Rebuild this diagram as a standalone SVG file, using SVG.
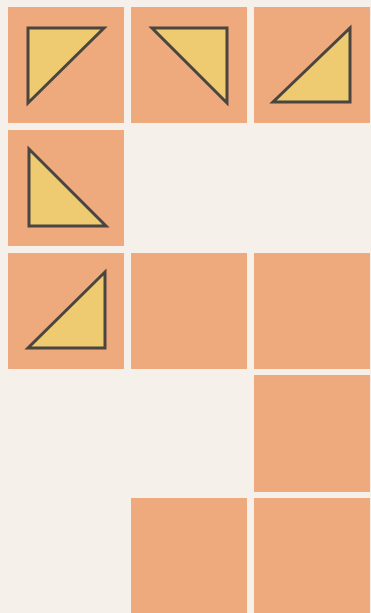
<svg xmlns="http://www.w3.org/2000/svg" width="371" height="613" viewBox="0 0 371 613">
<style>
.bg{fill:#f5f1ea}
.sq{fill:#eeaa7d}
.tri{fill:#eecb70;stroke:#4b4540;stroke-width:3;stroke-linejoin:miter}
</style>
<rect class="bg" x="0" y="0" width="371" height="613"/>
<g id="cell-r1c1"><rect class="sq" x="8" y="7" width="116" height="116"/><polygon class="tri" points="28,28 104,28 28,103"/></g>
<g id="cell-r1c2"><rect class="sq" x="131" y="7" width="116" height="116"/><polygon class="tri" points="152,28 227,28 227,103"/></g>
<g id="cell-r1c3"><rect class="sq" x="254" y="7" width="116" height="116"/><polygon class="tri" points="350,28 350,102 273,102"/></g>
<g id="cell-r2c1"><rect class="sq" x="8" y="130" width="116" height="116"/><polygon class="tri" points="29,149 29,226 106,226"/></g>
<g id="cell-r3c1"><rect class="sq" x="8" y="253" width="116" height="116"/><polygon class="tri" points="105,272 105,348 28,348"/></g>
<g id="cell-r3c2"><rect class="sq" x="131" y="253" width="116" height="116"/></g>
<g id="cell-r3c3"><rect class="sq" x="254" y="253" width="116" height="116"/></g>
<g id="cell-r4c3"><rect class="sq" x="254" y="375" width="116" height="117"/></g>
<g id="cell-r5c2"><rect class="sq" x="131" y="498" width="116" height="115"/></g>
<g id="cell-r5c3"><rect class="sq" x="254" y="498" width="116" height="115"/></g>
<g id="connectors"/>
</svg>
